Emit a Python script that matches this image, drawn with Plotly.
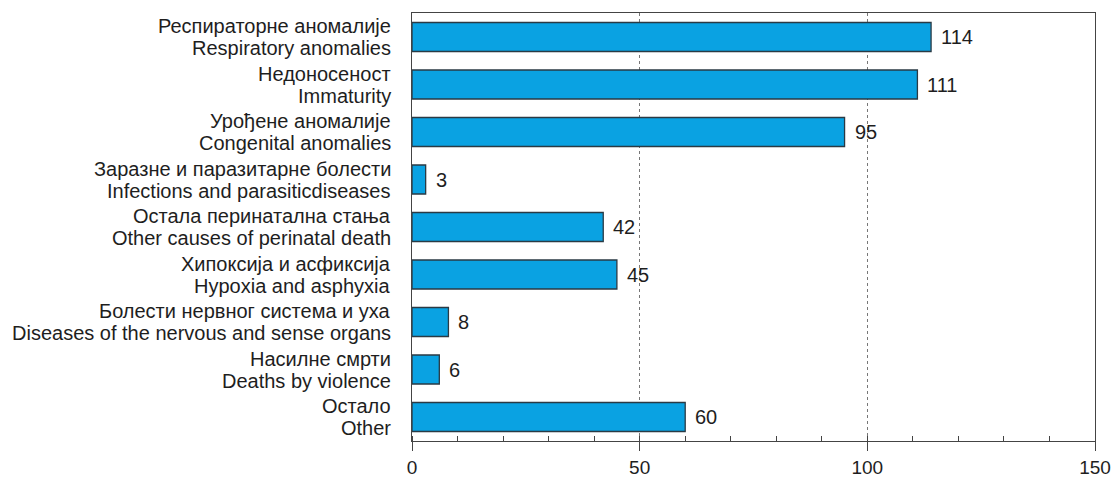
import plotly.graph_objects as go

labels_sr = [
    "Респираторне аномалије",
    "Недоносеност",
    "Урођене аномалије",
    "Заразне и паразитарне болести",
    "Остала перинатална стања",
    "Хипоксија и асфиксија",
    "Болести нервног система и уха",
    "Насилне смрти",
    "Остало",
]
labels_en = [
    "Respiratory anomalies",
    "Immaturity",
    "Congenital anomalies",
    "Infections and parasiticdiseases",
    "Other causes of perinatal death",
    "Hypoxia and asphyxia",
    "Diseases of the nervous and sense organs",
    "Deaths by violence",
    "Other",
]
values = [114, 111, 95, 3, 42, 45, 8, 6, 60]
x_ticks = [0, 50, 100, 150]

categories = [f"{a}<br>{b}" for a, b in zip(labels_sr, labels_en)]

FONT = "Liberation Sans, Arial, sans-serif"
TXT = "#1e1e1e"
FS = 20

fig = go.Figure(go.Bar(
    x=values, y=categories, orientation="h",
    marker=dict(color="#0AA2E2", line=dict(color="#2a3a44", width=1.3)),
    width=0.61,
    cliponaxis=False,
    hoverinfo="skip",
))

annotations = []
for cat, sr, en, v in zip(categories, labels_sr, labels_en, values):
    annotations.append(dict(x=0, y=cat, xref="paper", yref="y", text=sr,
                            xanchor="right", yanchor="middle", xshift=-19, yshift=11,
                            showarrow=False, font=dict(size=FS, color=TXT, family=FONT)))
    annotations.append(dict(x=0, y=cat, xref="paper", yref="y", text=en,
                            xanchor="right", yanchor="middle", xshift=-19, yshift=-11,
                            showarrow=False, font=dict(size=FS, color=TXT, family=FONT)))
    annotations.append(dict(x=v, y=cat, xref="x", yref="y", text=str(v),
                            xanchor="left", yanchor="middle", xshift=8,
                            showarrow=False, font=dict(size=FS, color=TXT, family=FONT)))

fig.update_layout(
    width=1113, height=477,
    margin=dict(l=412, r=18, t=13, b=36),
    paper_bgcolor="white", plot_bgcolor="white",
    font=dict(family=FONT, size=FS, color=TXT),
    showlegend=False,
    annotations=annotations,
)
fig.update_xaxes(
    range=[0, 150], tickvals=x_ticks, ticktext=[str(t) for t in x_ticks],
    showline=True, linecolor="#444444", linewidth=1.3, mirror=True,
    ticks="outside", ticklen=9, tickcolor="#444444", tickwidth=1.3,
    minor=dict(ticks="inside", dtick=10, ticklen=5, tickcolor="#444444", tickwidth=1, showgrid=False),
    showgrid=True, gridcolor="#777777", griddash="dot", gridwidth=1,
    zeroline=False, automargin=False,
    tickfont=dict(size=19, color=TXT),
)
fig.update_yaxes(
    autorange="reversed",
    showline=True, linecolor="#444444", linewidth=1.3, mirror=True,
    ticks="", showgrid=False, showticklabels=False, automargin=False,
)

fig.write_html("out.html", config={"displayModeBar": False},
               post_script="document.body.style.margin='0';document.body.style.overflow='hidden';")
